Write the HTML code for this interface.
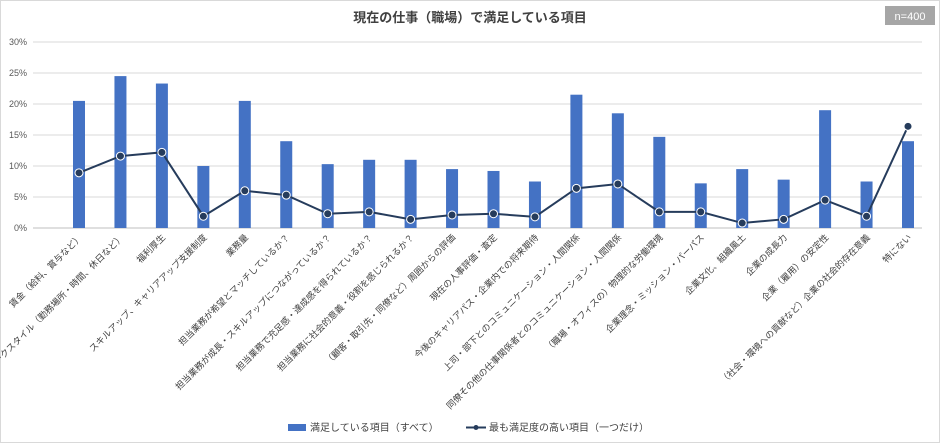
<!DOCTYPE html>
<html><head><meta charset="utf-8"><style>
body{margin:0;background:#fff;}
svg{display:block;font-family:"Liberation Sans","Noto Sans CJK JP",sans-serif;}
</style></head><body>
<svg id="chart" width="940" height="443" xmlns="http://www.w3.org/2000/svg">
<rect x="0.5" y="0.5" width="939" height="442" fill="#fff" stroke="#d9d9d9"/>
<text x="470" y="22" text-anchor="middle" font-size="13" font-weight="bold" fill="#404040">現在の仕事（職場）で満足している項目</text>
<rect x="885" y="6" width="50" height="19" fill="#a6a6a6"/>
<text x="910" y="20" text-anchor="middle" font-size="11" fill="#fff">n=400</text>
<g id="grid"></g><g id="bars"></g><g id="line"></g><g id="xlabels"></g>
<g>
<rect x="288" y="424" width="18" height="7" fill="#4472c4"/>
<text x="310" y="431" font-size="10" fill="#404040">満足している項目（すべて）</text>
<line x1="466" y1="427.5" x2="486" y2="427.5" stroke="#263c5c" stroke-width="2"/>
<circle cx="476" cy="427.5" r="2.5" fill="#263c5c"/>
<text x="489" y="431" font-size="10" fill="#404040">最も満足度の高い項目（一つだけ）</text>
</g>
</svg>
<script>
const categories=["賃金（給料、賞与など）","ワークスタイル（勤務場所・時間、休日など）","福利厚生","スキルアップ、キャリアアップ支援制度","業務量","担当業務が希望とマッチしているか？","担当業務が成長・スキルアップにつながっているか？","担当業務で充足感・達成感を得られているか？","担当業務に社会的意義・役割を感じられるか？","（顧客・取引先・同僚など）周囲からの評価","現在の人事評価・査定","今後のキャリアパス・企業内での将来期待","上司・部下とのコミュニケーション・人間関係","同僚その他の仕事関係者とのコミュニケーション・人間関係","（職場・オフィスの）物理的な労働環境","企業理念・ミッション・パーパス","企業文化、組織風土","企業の成長力","企業（雇用）の安定性","（社会・環境への貢献など）企業の社会的存在意義","特にない"];
const allSatisfied=[20.5,24.5,23.3,10,20.5,14,10.3,11,11,9.5,9.2,7.5,21.5,18.5,14.7,7.2,9.5,7.8,19,7.5,14];
const mostSatisfied=[8.9,11.6,12.2,1.9,6,5.3,2.3,2.6,1.4,2.1,2.3,1.8,6.4,7.1,2.6,2.6,0.8,1.4,4.5,1.9,16.4];
const yTicks=[0,5,10,15,20,25,30];
const NS="http://www.w3.org/2000/svg";
const y0=228,yTop=42,yMax=30,xStart=79,xStep=41.45;
const y=v=>y0-(v/yMax)*(y0-yTop);
const x=i=>xStart+i*xStep;
function mk(tag,attrs,parent){const e=document.createElementNS(NS,tag);for(const k in attrs)e.setAttribute(k,attrs[k]);parent.appendChild(e);return e;}
const grid=document.getElementById('grid');
yTicks.forEach(t=>{
  const l=mk('line',{x1:33,x2:922,y1:y(t),y2:y(t),stroke:t===0?'#bfbfbf':'#d9d9d9','stroke-width':1},grid);
  
  
  const tx=mk('text',{x:27,y:y(t)+3,'text-anchor':'end','font-size':9,fill:'#595959'},grid);
  tx.textContent=t+'%';
  
  
});
const bars=document.getElementById('bars');
allSatisfied.forEach((v,i)=>{
  const r=mk('rect',{x:x(i)-6,y:y(v),width:12,height:y0-y(v),fill:'#4472c4'},bars);
  
  
});
const lg=document.getElementById('line');
const p=mk('polyline',{points:mostSatisfied.map((v,i)=>x(i)+','+y(v)).join(' '),fill:'none',stroke:'#263c5c','stroke-width':2},lg);


mostSatisfied.forEach((v,i)=>{
  const c=mk('circle',{cx:x(i),cy:y(v),r:4,fill:'#263c5c',stroke:'#fff','stroke-width':1},lg);
  
  
});
const xl=document.getElementById('xlabels');
categories.forEach((c,i)=>{
  const tx=mk('text',{x:x(i)+4,y:238,'text-anchor':'end','font-size':9,fill:'#404040',transform:`rotate(-45 ${x(i)+4} 238)`},xl);
  tx.textContent=c;
  
  
});
</script>
</body></html>
